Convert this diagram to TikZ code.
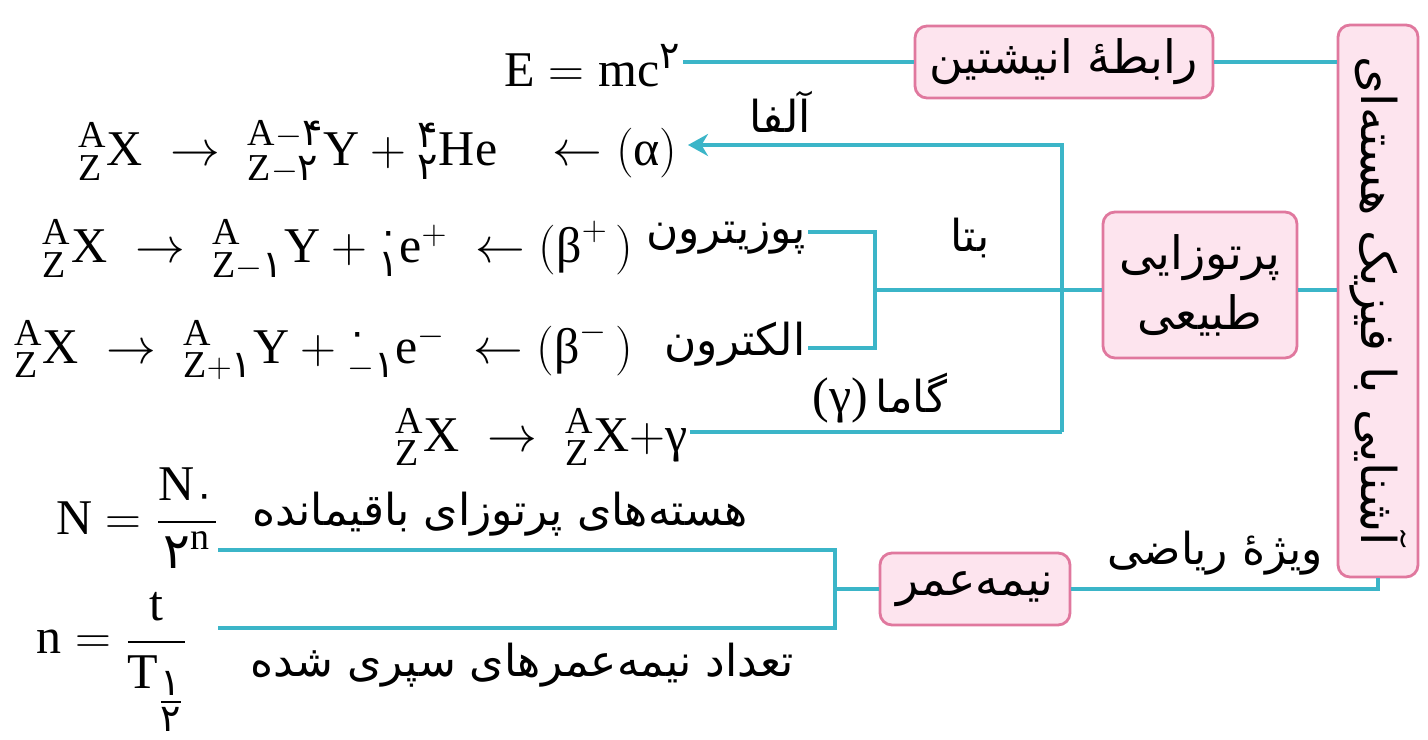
\documentclass[tikz,border=0pt]{standalone}
\usepackage{amsmath}
\usepackage{graphicx}
\usepackage{fontspec}
\setmainfont{Liberation Serif}
\newfontfamily\arabicfont[Script=Arabic]{DejaVu Sans}
\TeXXeTstate=1
\usetikzlibrary{arrows.meta}
\DeclareMathSizes{25}{25}{19}{15}
\definecolor{linec}{HTML}{3BB5C8}
\definecolor{boxf}{HTML}{FDE4EE}
\definecolor{boxb}{HTML}{E0789E}
\newcommand{\fa}[1]{\text{\arabicfont #1}}
\newcommand{\gr}[1]{\text{\rmfamily #1}}
\newcommand{\rtl}[1]{{\arabicfont\beginR #1\endR}}
\newcommand{\nuc}[3]{{}^{\mathrm{#1}}_{\mathrm{#2}}\mathrm{#3}}
\newcommand{\ra}{\;\rightarrow\;}
\newcommand{\la}{\;\leftarrow}
\begin{document}
\begin{tikzpicture}[x=0.5pt,y=-0.5pt,
  conn/.style={draw=linec, line width=1.8pt},
  box/.style={draw=boxb, fill=boxf, line width=1.4pt, rounded corners=6pt, inner sep=3pt, font=\fontsize{23}{30}\arabicfont},
  fa/.style={font=\fontsize{22}{26}\arabicfont, inner sep=1pt},
  eq/.style={font=\fontsize{25}{30}\selectfont, inner sep=1pt}]
\useasboundingbox (0,0) rectangle (1428,739);

% boxes
\node[box, minimum width=40pt, minimum height=276pt, font=\fontsize{24}{30}\arabicfont] (big) at (1378,301) {\rotatebox{-90}{\rtl{آشنایی با فیزیک هسته‌ای}}};
\node[box, minimum width=149pt, minimum height=36pt] (einst) at (1064,62) {\rtl{رابطهٔ انیشتین}};
\node[box, minimum width=97pt, minimum height=73pt, align=center] (radio) at (1200,285) {\rtl{پرتوزایی}\\\rtl{طبیعی}};
\node[box, minimum width=95pt, minimum height=36pt] (half) at (975,589) {\rtl{نیمه‌عمر}};

% equations
\node[eq, anchor=east] (eqE) at (683,66) {$\mathrm{E}=\mathrm{mc}^{\fa{۲}}$};
\node[eq, anchor=east] (eqA) at (680,152) {$\nuc{A}{Z}{X}\ra\nuc{A-\fa{۴}}{Z-\fa{۲}}{Y}+\nuc{\fa{۴}}{\fa{۲}}{He}\;\;\la(\gr{α})$};
\node[fa, anchor=east] (pos) at (808,238) {\rtl{پوزیترون}};
\node[eq, anchor=east] (eqBp) at (636,250) {$\nuc{A}{Z}{X}\ra\nuc{A}{Z-\fa{۱}}{Y}+\nuc{\fa{۰}}{\fa{۱}}{e}^{+}\la(\gr{β}^{+}\,)$};
\node[fa, anchor=east] (ele) at (808,344) {\rtl{الکترون}};
\node[eq, anchor=east] (eqBm) at (636,350) {$\nuc{A}{Z}{X}\ra\nuc{A}{Z+\fa{۱}}{Y}+\nuc{\fa{۰}}{-\fa{۱}}{e}^{-}\la(\gr{β}^{-}\,)$};
\node[eq, anchor=east] (eqG) at (690,437) {$\nuc{A}{Z}{X}\ra\nuc{A}{Z}{X}{+}\gr{γ}$};

\node[eq] (fN) at (137,518) {$\mathrm{N}=\dfrac{\mathrm{N}_{\fa{۰}}}{\fa{۲}^{\mathrm{n}}}$};
\node[eq] (fn) at (112,662) {$\mathrm{n}=\dfrac{\mathrm{t}}{\mathrm{T}_{\textstyle\frac{\fa{۱}}{\fa{۲}}}}$};

% labels
\node[fa] (lalpha) at (780,112) {\rtl{آلفا}};
\node[fa] (lbeta) at (970,238) {\rtl{بتا}};
\node[fa] (lgamma) at (880,398) {{\rmfamily\fontsize{25}{30}\selectfont(γ)}\,\rtl{گاما}};
\node[fa] (lmath) at (1215,553) {\rtl{ویژهٔ ریاضی}};
\node[fa] (lrem) at (500,514) {\rtl{هسته‌های پرتوزای باقیمانده}};
\node[fa] (lnum) at (522,665) {\rtl{تعداد نیمه‌عمرهای سپری شده}};

% connectors
\coordinate (va) at (1062,145);
\coordinate (vg) at (1062,432);
\coordinate (jb) at (875,290);
\coordinate (jh) at (835,589);
\coordinate (ht) at (218,550);
\coordinate (hb) at (218,628);
\draw[conn] (einst.west) -- (einst.west -| eqE.east);
\draw[conn] (einst.east) -- (einst.east -| big.west);
\draw[conn] (radio.east |- jb) -- (big.west |- jb);
\draw[conn, -{Stealth[length=10pt,width=11pt]}] (vg) -- (va) -- ([xshift=4pt]va -| eqA.east);
\draw[conn] (vg) -- (vg -| eqG.east);
\draw[conn] (radio.west |- jb) -- (jb);
\draw[conn] (pos.east |- 0,232) -- (jb |- 0,232) -- (jb |- 0,348) -- (ele.east |- 0,348);
\draw[conn] (half.west) -- (half.west -| jh);
\draw[conn] (ht) -- (ht -| jh) -- (hb -| jh) -- (hb);
\draw[conn] (half.east) -| (big.south);
\end{tikzpicture}
\end{document}
